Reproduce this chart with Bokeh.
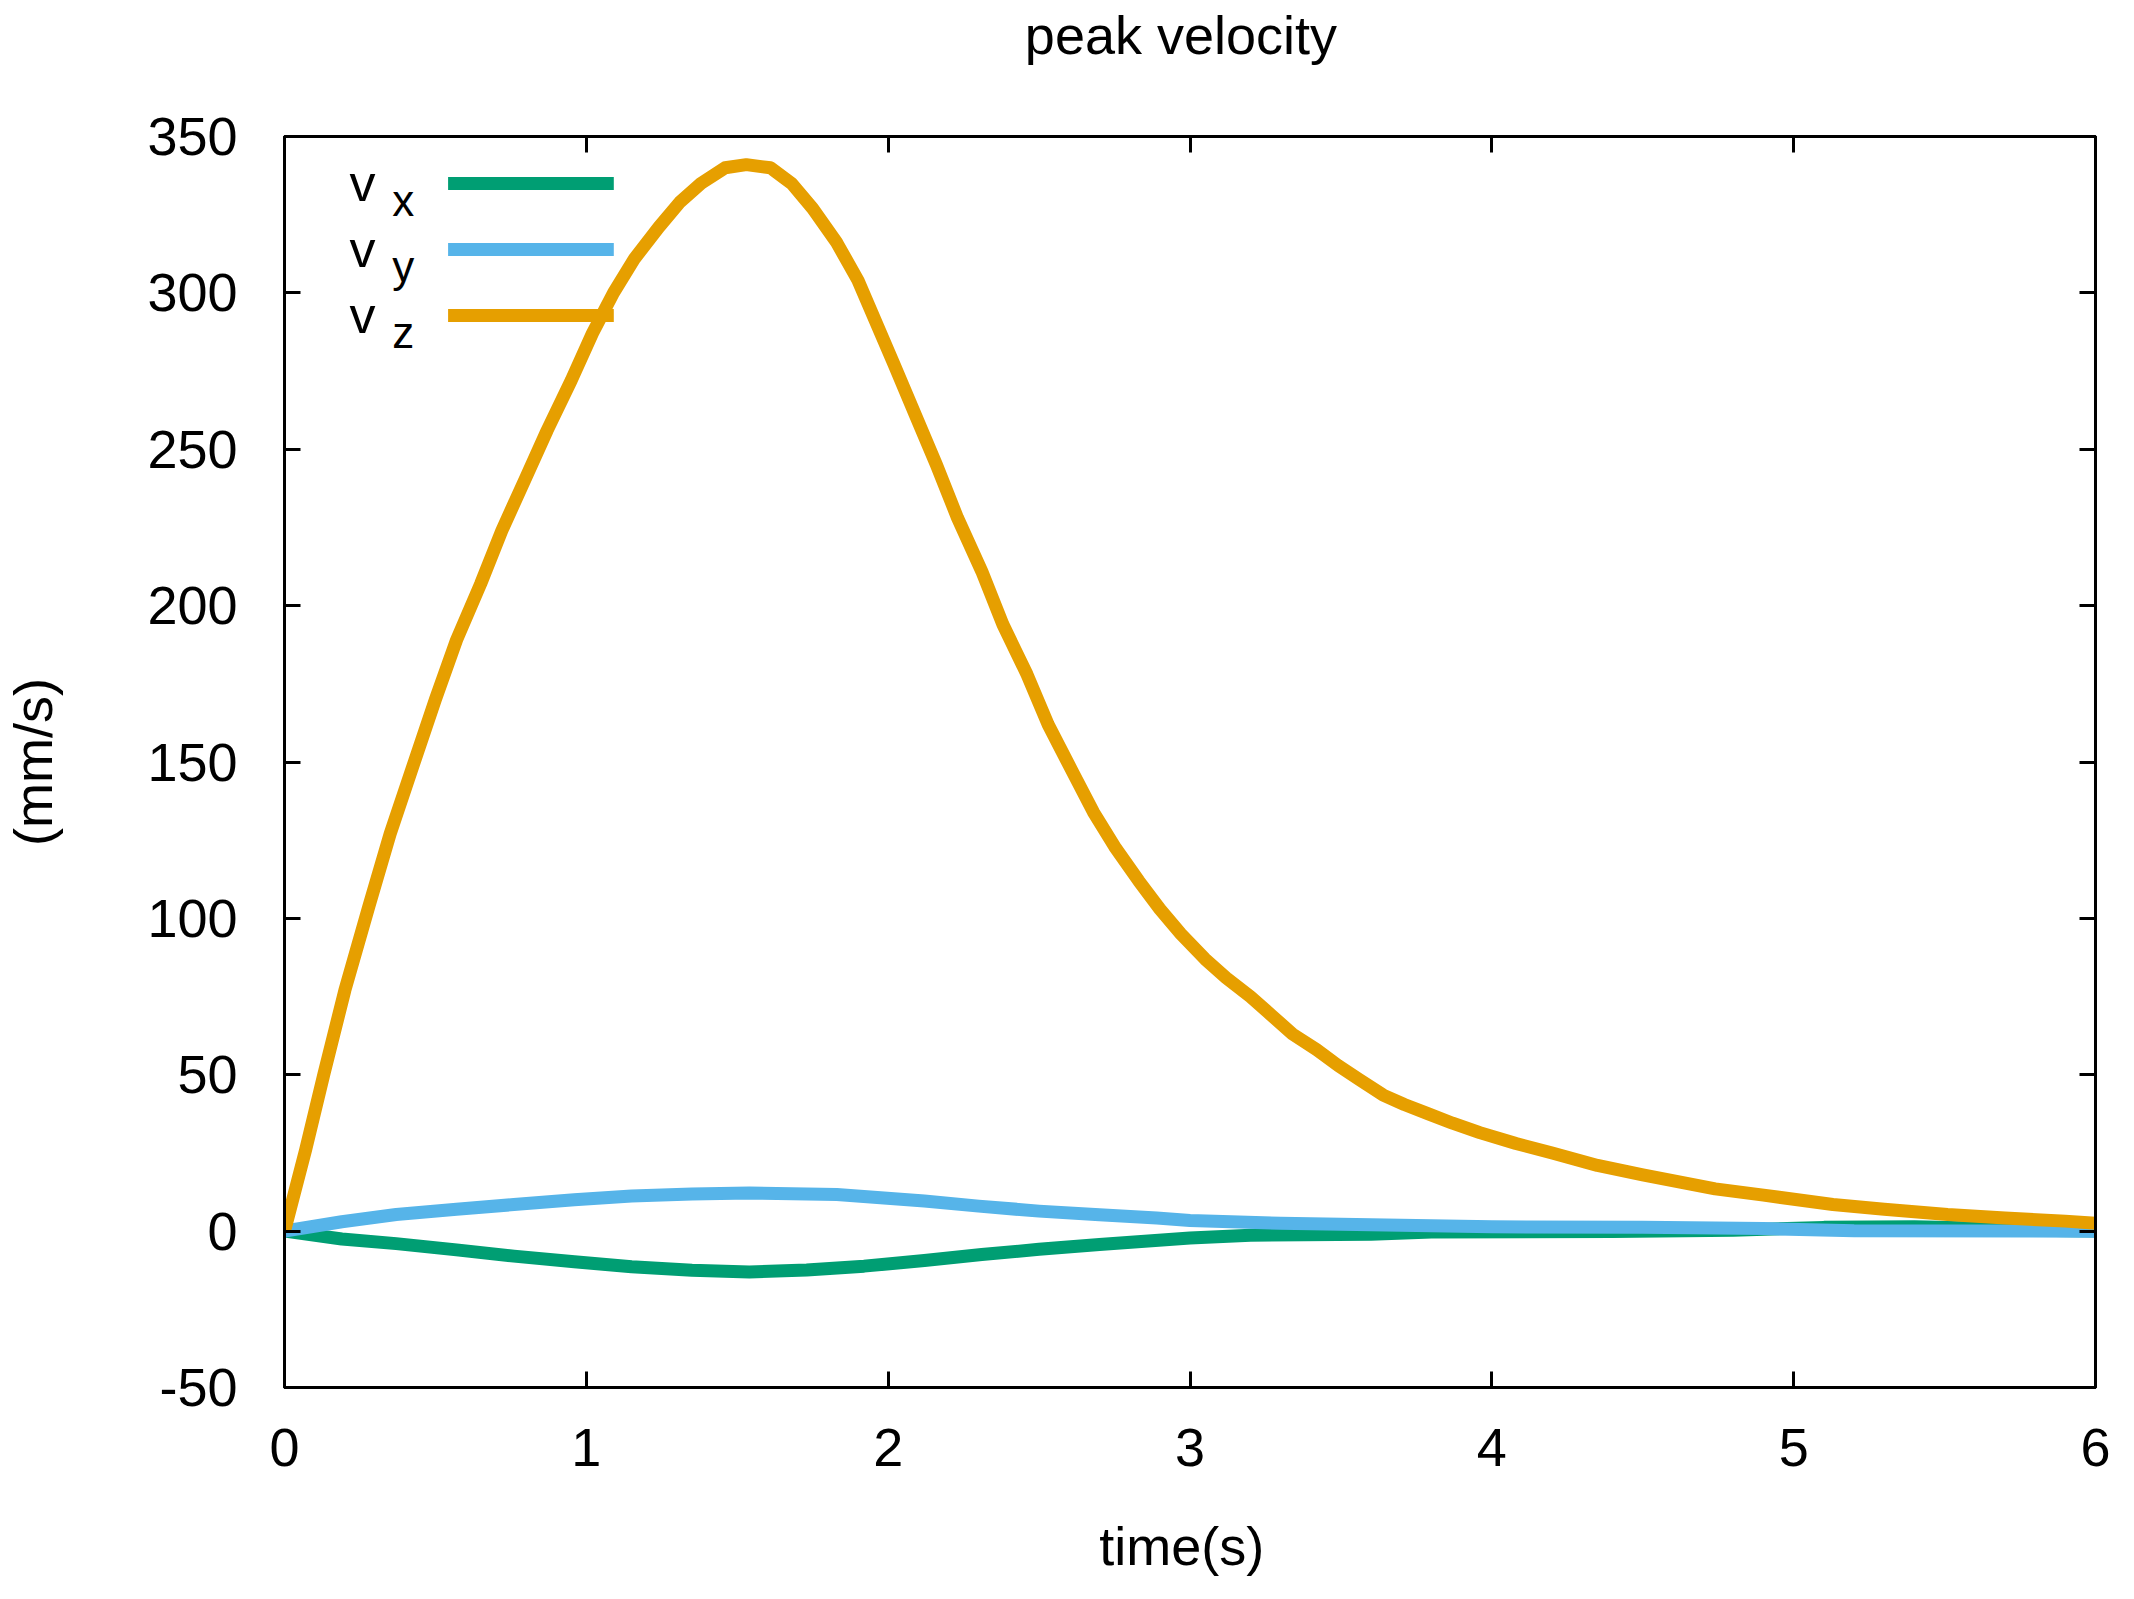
from bokeh.plotting import figure
from bokeh.models import Range1d, LinearAxis, FixedTicker, Label
from bokeh.embed import file_html
from bokeh.resources import INLINE

# ---------------- data ----------------
t_vz = [0.00, 0.07, 0.13, 0.20, 0.28, 0.35, 0.43, 0.50, 0.57, 0.65, 0.72, 0.80,
        0.87, 0.95, 1.02, 1.09, 1.16, 1.24, 1.31, 1.38, 1.46, 1.53, 1.61, 1.68,
        1.75, 1.83, 1.90, 2.02, 2.09, 2.16, 2.23, 2.31, 2.38, 2.46, 2.53, 2.61,
        2.68, 2.75, 2.83, 2.90, 2.97, 3.05, 3.12, 3.20, 3.27, 3.34, 3.42, 3.49,
        3.56, 3.64, 3.71, 3.79, 3.87, 3.96, 4.08, 4.20, 4.35, 4.50, 4.74, 4.90,
        5.13, 5.30, 5.51, 5.70, 5.90, 6.00]
vz = [0, 26, 50, 77, 104, 127, 150, 170, 189, 207, 224, 241,
      256, 272, 287, 300, 311, 321, 329, 335, 340, 341, 340, 335,
      327, 316, 304, 277, 261, 245, 228, 211, 194, 178, 162, 147,
      134, 123, 112, 103, 95, 87, 81, 75, 69, 63, 58, 53,
      48.5, 43.5, 40.5, 37.5, 34.5, 31.5, 28, 25, 21, 18, 13.5, 11.5,
      8.5, 7, 5.3, 4.2, 3.2, 2.5]

t_vy = [0.0, 0.19, 0.37, 0.57, 0.76, 0.96, 1.15, 1.35, 1.54, 1.83, 2.12, 2.30,
        2.50, 2.70, 2.89, 3.0, 3.3, 3.6, 4.0, 4.5, 4.9, 5.2, 6.0]
vy = [0.0, 3.0, 5.3, 7.0, 8.5, 10.0, 11.2, 11.9, 12.2, 11.7, 9.6, 8.0,
      6.4, 5.2, 4.2, 3.4, 2.5, 2.0, 1.4, 1.2, 0.8, 0.1, 0.0]

t_vx = [0.0, 0.19, 0.37, 0.57, 0.76, 0.96, 1.15, 1.35, 1.54, 1.73, 1.92, 2.12,
        2.31, 2.50, 2.70, 3.0, 3.2, 3.6, 3.8, 4.4, 4.8, 5.1, 5.4, 5.6, 5.8, 6.0]
vx = [0.0, -2.5, -4.0, -6.0, -8.0, -9.8, -11.4, -12.5, -13.1, -12.4, -11.2, -9.4,
      -7.5, -5.8, -4.3, -2.2, -1.3, -1.0, -0.3, -0.1, 0.3, 1.2, 1.4, 1.0, 0.3, 0.0]

x_ticks = [0, 1, 2, 3, 4, 5, 6]
y_ticks = [-50, 0, 50, 100, 150, 200, 250, 300, 350]
y_tick_labels = {-50: "-50"}

series_names = ["x", "y", "z"]
series_colors = ["#009e73", "#56b4e9", "#e69f00"]
title_text = "peak velocity"
title_pos = 2.97    # horizontal centre of the title, in time units
xlabel_text = "time(s)"
xlabel_pos = 2.973  # horizontal centre of the x-axis label, in time units
ylabel_text = "(mm/s)"

FONT = "Liberation Sans"
FS = "54px"

p = figure(width=2118, height=1583, output_backend="svg", toolbar_location=None,
           x_range=Range1d(0, 6), y_range=Range1d(-50, 350),
           min_border_left=280, min_border_right=23,
           min_border_top=136, min_border_bottom=196)
p.background_fill_color = "white"
p.border_fill_color = "white"
p.outline_line_color = "black"
p.outline_line_width = 3
p.xgrid.visible = False
p.ygrid.visible = False


def style_axis(ax, ticks):
    ax.ticker = FixedTicker(ticks=ticks)
    ax.axis_line_width = 3
    ax.axis_line_color = "black"
    ax.major_tick_in = 16
    ax.major_tick_out = 0
    ax.major_tick_line_width = 3
    ax.major_tick_line_color = "black"
    ax.minor_tick_line_color = None
    ax.major_label_text_font = FONT
    ax.major_label_text_font_size = FS
    ax.major_label_text_color = "black"
    ax.axis_label_text_font = FONT
    ax.axis_label_text_font_size = FS
    ax.axis_label_text_font_style = "normal"
    ax.axis_label_text_color = "black"


def text_axis(pos, text, standoff):
    """An axis without line or ticks whose only label is a piece of text."""
    ax = LinearAxis()
    style_axis(ax, [pos])
    ax.axis_line_color = None
    ax.major_tick_line_color = None
    ax.major_tick_in = 0
    ax.major_label_overrides = {pos: text}
    ax.major_label_standoff = standoff
    return ax


style_axis(p.xaxis[0], x_ticks)
style_axis(p.yaxis[0], y_ticks)
p.yaxis[0].major_label_overrides = y_tick_labels
p.yaxis[0].axis_label = ylabel_text
p.xaxis[0].major_label_standoff = 41
p.yaxis[0].major_label_standoff = 47
p.yaxis[0].axis_label_standoff = 81

top_ax = LinearAxis()
style_axis(top_ax, x_ticks)
top_ax.major_label_overrides = {t: "" for t in x_ticks}
top_ax.major_label_text_font_size = "1px"
top_ax.major_label_standoff = 0
p.add_layout(top_ax, "above")

right_ax = LinearAxis()
style_axis(right_ax, y_ticks)
right_ax.major_label_overrides = {t: "" for t in y_ticks}
right_ax.major_label_text_font_size = "1px"
right_ax.major_label_standoff = 0
p.add_layout(right_ax, "right")

# title and x-axis label, each the single label of an invisible axis
p.add_layout(text_axis(title_pos, title_text, 72), "above")
p.add_layout(text_axis(xlabel_pos, xlabel_text, 47), "below")

# curves (drawn vx, vy, vz so that vz is on top)
for tt, vv, c in zip([t_vx, t_vy, t_vz], [vx, vy, vz], series_colors):
    p.line(tt, vv, line_color=c, line_width=13, line_join="round")

# legend (gnuplot style: text at left, sample to its right)
leg_v_x = 0.215
leg_sub_x = 0.357
leg_line_x = [0.542, 1.091]
leg_v_base = 335.0
leg_sub_base = 329.5
leg_line_y = 335.0
leg_step = 21.1
for i, (nm, c) in enumerate(zip(series_names, series_colors)):
    dy = i * leg_step
    p.add_layout(Label(x=leg_v_x, y=leg_v_base - dy, text="v", text_font=FONT,
                       text_font_size="52px", text_color="black",
                       text_baseline="alphabetic", text_align="left"))
    p.add_layout(Label(x=leg_sub_x, y=leg_sub_base - dy, text=nm, text_font=FONT,
                       text_font_size="44px", text_color="black",
                       text_baseline="alphabetic", text_align="left"))
    p.line(leg_line_x, [leg_line_y - dy, leg_line_y - dy], line_color=c, line_width=13)

open("out.html", "w").write(file_html(p, INLINE))
